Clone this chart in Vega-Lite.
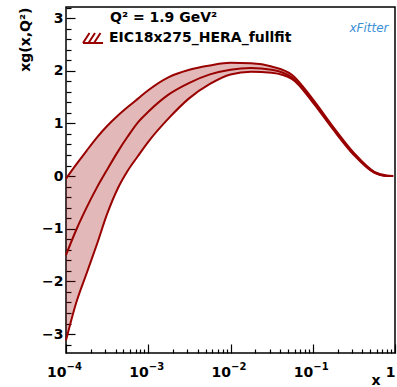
{
  "$schema": "https://vega.github.io/schema/vega-lite/v6.json",
  "width": 329,
  "height": 346,
  "autosize": {"type": "none"},
  "padding": {"left": 66, "top": 7, "right": 2, "bottom": 34},
  "background": "white",
  "config": {
    "view": {"stroke": "black", "strokeWidth": 1.5},
    "font": "DejaVu Sans",
    "axis": {
      "labelFont": "DejaVu Sans", "labelFontWeight": "bold", "labelFontSize": 14, "labelColor": "black",
      "titleFont": "DejaVu Sans", "titleFontWeight": "bold", "titleFontSize": 14, "titleColor": "black",
      "tickColor": "black", "tickWidth": 1.2, "domain": false, "grid": false,
      "labelOverlap": false, "labelFlush": false, "labelBound": false
    }
  },
  "data": {
    "values": [
      {"x": 0.0001, "top": -0.05, "mid": -1.5, "bot": -3.12},
      {"x": 0.00013335, "top": 0.22, "mid": -1.02, "bot": -2.4},
      {"x": 0.00017783, "top": 0.48, "mid": -0.6, "bot": -1.85},
      {"x": 0.00023714, "top": 0.73, "mid": -0.22, "bot": -1.3},
      {"x": 0.00031623, "top": 0.95, "mid": 0.12, "bot": -0.72},
      {"x": 0.0004217, "top": 1.14, "mid": 0.45, "bot": -0.25},
      {"x": 0.00056234, "top": 1.31, "mid": 0.75, "bot": 0.1},
      {"x": 0.00074989, "top": 1.47, "mid": 1.02, "bot": 0.38},
      {"x": 0.001, "top": 1.63, "mid": 1.22, "bot": 0.65},
      {"x": 0.0017783, "top": 1.88, "mid": 1.55, "bot": 1.1},
      {"x": 0.0031623, "top": 2.02, "mid": 1.77, "bot": 1.48},
      {"x": 0.0056234, "top": 2.1, "mid": 1.93, "bot": 1.75},
      {"x": 0.01, "top": 2.15, "mid": 2.02, "bot": 1.93},
      {"x": 0.017783, "top": 2.14, "mid": 2.05, "bot": 1.98},
      {"x": 0.031623, "top": 2.08, "mid": 2.02, "bot": 1.96},
      {"x": 0.056234, "top": 1.92, "mid": 1.87, "bot": 1.84},
      {"x": 0.1, "top": 1.46, "mid": 1.42, "bot": 1.4},
      {"x": 0.17783, "top": 0.93, "mid": 0.9, "bot": 0.88},
      {"x": 0.31623, "top": 0.44, "mid": 0.42, "bot": 0.4},
      {"x": 0.56234, "top": 0.08, "mid": 0.07, "bot": 0.06},
      {"x": 0.79433, "top": 0.01, "mid": 0.0, "bot": 0.0},
      {"x": 0.95, "top": 0.0, "mid": 0.0, "bot": 0.0}
    ]
  },
  "layer": [
    {
      "mark": {"type": "area", "interpolate": "monotone", "fillOpacity": 0.28},
      "encoding": {
        "x": {
          "field": "x", "type": "quantitative",
          "scale": {"type": "log", "domain": [0.0001, 1], "nice": false},
          "axis": {
            "orient": "bottom",
            "values": [0.0001, 0.001, 0.01, 0.1, 1],
            "tickSize": -9, "labelPadding": 21,
            "labelAlign": "right",
            "labelDx": 1,
            "labelExpr": "datum.value > 0.5 ? '1' : '10'",
            "title": "x", "titleAnchor": "end", "titleAlign": "right", "titleX": 314, "titleY": 31, "titleBaseline": "alphabetic"
          }
        },
        "y": {
          "field": "top", "type": "quantitative",
          "scale": {"domain": [-3.36, 3.21], "nice": false, "zero": false},
          "axis": {
            "orient": "left",
            "values": [-3, -2, -1, 0, 1, 2, 3],
            "tickSize": -9, "labelPadding": 12,
            "labelExpr": "datum.value < -0.5 ? '−' + format(abs(datum.value), 'd') : format(abs(datum.value), 'd')",
            "title": "xg(x,Q²)", "titleAnchor": "end", "titleAlign": "right", "titleBaseline": "bottom", "titleX": -34, "titleY": 0
          }
        },
        "y2": {"field": "bot"},
        "fill": {
          "datum": "EIC18x275_HERA_fullfit", "type": "nominal",
          "scale": {"range": ["#990000"]},
          "legend": {
            "orient": "none", "legendX": 16, "legendY": 20, "title": null, "padding": 0,
            "symbolType": "M-1,0.5L-0.35,-0.5M-0.45,0.5L0.2,-0.5M0.1,0.5L0.75,-0.5M-1,0.5L1,0.5",
            "symbolSize": 400, "labelOffset": 5,
            "labelFont": "DejaVu Sans", "labelFontWeight": "bold", "labelFontSize": 14, "labelColor": "black", "labelLimit": 300,
            "encode": {"symbols": {"update": {"fill": {"value": "transparent"}, "stroke": {"value": "#990000"}, "strokeWidth": {"value": 2}, "opacity": {"value": 1}}}}
          }
        }
      }
    },
    {
      "mark": {"type": "line", "interpolate": "monotone", "color": "#990000", "strokeWidth": 2},
      "encoding": {
        "x": {
          "field": "x", "type": "quantitative",
          "axis": {
            "orient": "bottom",
            "values": [0.0002,0.0003,0.0004,0.0005,0.0006,0.0007,0.0008,0.0009,0.002,0.003,0.004,0.005,0.006,0.007,0.008,0.009,0.02,0.03,0.04,0.05,0.06,0.07,0.08,0.09,0.2,0.3,0.4,0.5,0.6,0.7,0.8,0.9],
            "tickSize": -4, "labels": false, "title": null
          }
        },
        "y": {
          "field": "top", "type": "quantitative",
          "axis": {
            "orient": "left",
            "values": [-3.2,-2.8,-2.6,-2.4,-2.2,-1.8,-1.6,-1.4,-1.2,-0.8,-0.6,-0.4,-0.2,0.2,0.4,0.6,0.8,1.2,1.4,1.6,1.8,2.2,2.4,2.6,2.8,3.2],
            "tickSize": -5, "labels": false, "title": null
          }
        }
      }
    },
    {
      "mark": {"type": "line", "interpolate": "monotone", "color": "#990000", "strokeWidth": 2},
      "encoding": {
        "x": {
          "field": "x", "type": "quantitative",
          "axis": {
            "orient": "bottom",
            "values": [0.0001, 0.001, 0.01, 0.1],
            "ticks": false, "labelPadding": 8, "labelAlign": "left", "labelDx": 3,
            "labelFontSize": 10,
            "labelExpr": "['−4','−3','−2','−1'][round(log(datum.value)/LN10) + 4]",
            "title": null
          }
        },
        "y": {"field": "mid", "type": "quantitative", "axis": null}
      }
    },
    {
      "mark": {"type": "line", "interpolate": "monotone", "color": "#990000", "strokeWidth": 2},
      "encoding": {
        "x": {"field": "x", "type": "quantitative", "axis": null},
        "y": {"field": "bot", "type": "quantitative", "axis": null}
      }
    },
    {
      "data": {"values": [{"t": "Q² = 1.9 GeV²"}]},
      "mark": {"type": "text", "font": "DejaVu Sans", "fontWeight": "bold", "fontSize": 14, "align": "left", "baseline": "alphabetic", "fill": "black"},
      "encoding": {
        "x": {"datum": 0.000343, "type": "quantitative", "axis": null},
        "y": {"datum": 2.924, "type": "quantitative", "axis": null},
        "text": {"field": "t", "type": "nominal"}
      }
    },
    {
      "data": {"values": [{"t": "xFitter"}]},
      "mark": {"type": "text", "font": "DejaVu Sans", "fontStyle": "italic", "fontSize": 12, "align": "center", "baseline": "alphabetic", "fill": "#3d8fd6"},
      "encoding": {
        "x": {"datum": 0.483, "type": "quantitative", "axis": null},
        "y": {"datum": 2.734, "type": "quantitative", "axis": null},
        "text": {"field": "t", "type": "nominal"}
      }
    }
  ],
  "resolve": {"axis": {"x": "independent", "y": "independent"}}
}
